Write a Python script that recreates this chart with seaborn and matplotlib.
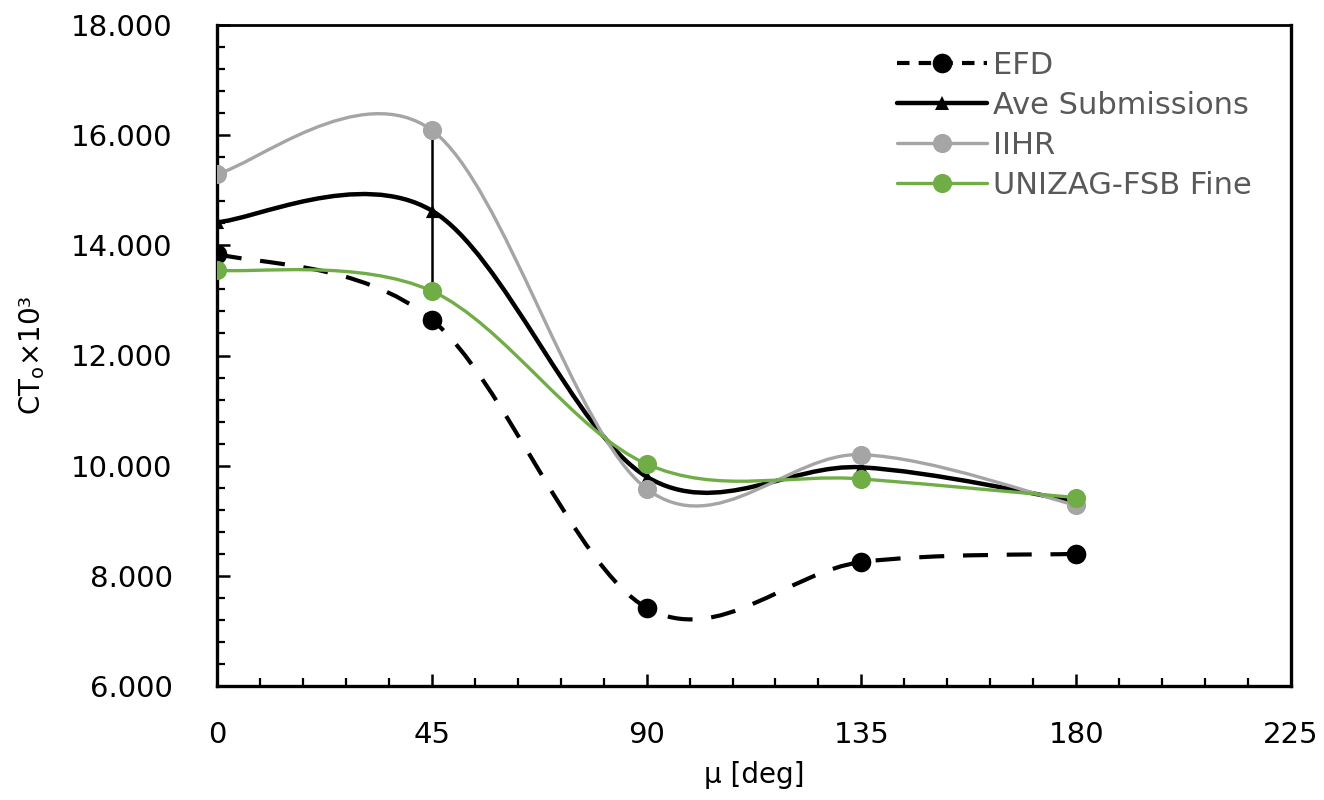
import numpy as np
import pandas as pd
import matplotlib
matplotlib.use("Agg")
import matplotlib.pyplot as plt
from matplotlib.path import Path
from matplotlib.patches import PathPatch
from matplotlib.lines import Line2D
from matplotlib.ticker import MultipleLocator, AutoMinorLocator, FormatStrFormatter
import seaborn as sns

# Heading angle [deg]
mu = [0, 45, 90, 135, 180]

# Total resistance coefficient CT x 10^3
efd = [13.85, 12.65, 7.42, 8.25, 8.40]
ave_submissions = [14.42, 14.63, 9.80, 9.97, 9.35]
iihr = [15.30, 16.09, 9.58, 10.20, 9.28]
unizag_fine = [13.55, 13.17, 10.03, 9.76, 9.42]

# Spread of the submissions at mu = 45 deg
ave_range_mu = [45]
ave_range_low = [13.20]
ave_range_high = [16.05]

series_names = ["EFD", "Ave Submissions", "IIHR", "UNIZAG-FSB Fine"]
series_values = [efd, ave_submissions, iihr, unizag_fine]

sns.set_theme(style="white")
plt.rcParams["font.family"] = ["DejaVu Sans"]

fig = plt.figure(figsize=(13.24, 8.0), dpi=100)
ax = fig.add_axes([217 / 1324, 114 / 800, (1291 - 217) / 1324, (686 - 25) / 800])


def smooth_path(xs, ys):
    """Cubic Bezier path through the points (Catmull-Rom style tangents)."""
    pts = np.column_stack([xs, ys]).astype(float)
    n = len(pts)
    verts = [pts[0]]
    codes = [Path.MOVETO]
    for i in range(n - 1):
        p0 = pts[i - 1] if i > 0 else pts[i]
        p1 = pts[i]
        p2 = pts[i + 1]
        p3 = pts[i + 2] if i + 2 < n else pts[i + 1]
        c1 = p1 + (p2 - p0) / 6.0
        c2 = p2 - (p3 - p1) / 6.0
        verts += [c1, c2, p2]
        codes += [Path.CURVE4] * 3
    return Path(verts, codes)


styles = {
    "EFD": dict(color="black", lw=3.0, ls=(0, (6, 4.5)), marker="o", ms=200),
    "Ave Submissions": dict(color="black", lw=3.2, ls="-", marker="^", ms=90),
    "IIHR": dict(color="#A5A5A5", lw=2.4, ls="-", marker="o", ms=190),
    "UNIZAG-FSB Fine": dict(color="#70AD47", lw=2.4, ls="-", marker="o", ms=190),
}

df = pd.DataFrame({"mu": np.tile(mu, len(series_names)),
                   "ct": np.concatenate(series_values),
                   "series": np.repeat(series_names, len(mu))})

for k, name in enumerate(series_names):
    st = styles[name]
    sub = df[df["series"] == name]
    patch = PathPatch(smooth_path(sub["mu"], sub["ct"]), facecolor="none",
                      edgecolor=st["color"], lw=st["lw"], ls=st["ls"],
                      capstyle="butt", transform=ax.transData, zorder=2 + k)
    ax.add_patch(patch)
    sns.scatterplot(data=sub, x="mu", y="ct", ax=ax, color=st["color"],
                    marker=st["marker"], s=st["ms"], linewidth=0,
                    zorder=2.5 + k, legend=False)
    if name == "Ave Submissions":
        lo = np.array(ave_submissions)[[mu.index(m) for m in ave_range_mu]]
        ax.errorbar(ave_range_mu, lo,
                    yerr=[lo - np.array(ave_range_low), np.array(ave_range_high) - lo],
                    fmt="none", ecolor="black", elinewidth=1.8, capsize=0,
                    zorder=2.4 + k)

ax.set_xlim(0, 225)
ax.set_ylim(6, 18)
ax.xaxis.set_major_locator(MultipleLocator(45))
ax.xaxis.set_minor_locator(AutoMinorLocator(5))
ax.yaxis.set_major_locator(MultipleLocator(2))
ax.yaxis.set_minor_locator(AutoMinorLocator(5))
ax.yaxis.set_major_formatter(FormatStrFormatter("%.3f"))

ax.tick_params(axis="both", which="both", direction="in", color="black",
               bottom=True, left=True, top=False, right=False)
ax.tick_params(axis="both", which="major", length=9, width=1.8, labelsize=21,
               labelcolor="black")
ax.tick_params(axis="both", which="minor", length=6, width=1.6)
ax.tick_params(axis="y", which="major", pad=32)
ax.tick_params(axis="x", which="major", pad=25)

for side, w in {"left": 2.4, "bottom": 2.4, "top": 2.0, "right": 2.4}.items():
    ax.spines[side].set_visible(True)
    ax.spines[side].set_color("black")
    ax.spines[side].set_linewidth(w)

ax.set_xlabel("\u03bc [deg]", fontsize=20, color="black", labelpad=9)
ax.set_ylabel("CT$_\\mathregular{o}$\u00d710\u00b3", fontsize=20, color="black",
              labelpad=17)
ax.grid(False)

handles = []
for name in series_names:
    st = styles[name]
    handles.append(Line2D([], [], color=st["color"], lw=st["lw"],
                          ls=(0, (3.0, 2.2)) if name == "EFD" else st["ls"],
                          marker=st["marker"], markersize=np.sqrt(st["ms"]),
                          markeredgewidth=0))
leg = ax.legend(handles, series_names, loc="upper left",
                bbox_to_anchor=((897 - 217) / (1291 - 217), 1 - (51 - 25) / (686 - 25)),
                frameon=False, fontsize=22, handlelength=2.95, handletextpad=0.18,
                labelspacing=0.36, borderaxespad=0, borderpad=0)
for t in leg.get_texts():
    t.set_color("#595959")

fig.savefig("out.png", dpi=100)
